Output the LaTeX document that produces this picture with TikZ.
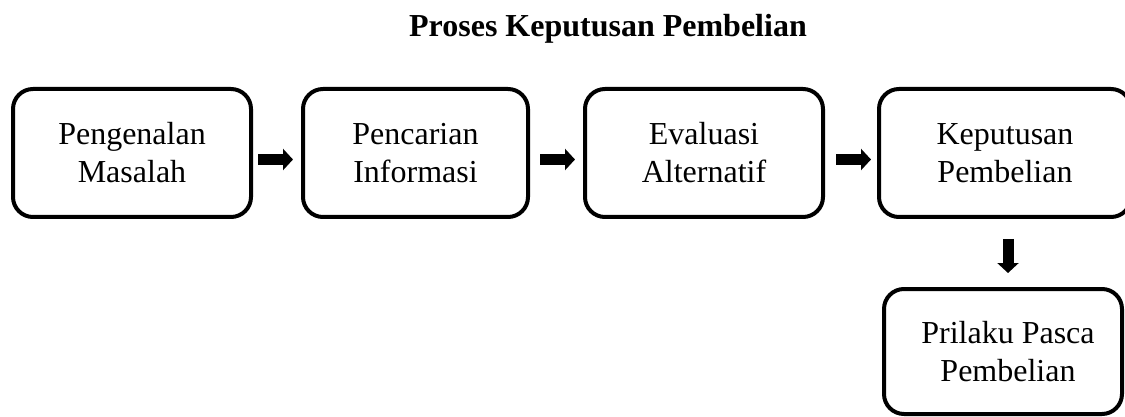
\documentclass[tikz,border=0pt]{standalone}
\usepackage{fontspec}
\setmainfont{Liberation Serif}
\usetikzlibrary{arrows.meta,calc}
\begin{document}
\begin{tikzpicture}[x=0.75pt,y=-0.75pt,
  stagebox/.style={draw, line width=3pt, rounded corners=15pt, align=center,
    outer sep=0pt, inner sep=0pt, font=\fontsize{24}{28.5}\selectfont},
  blockarrow/.style={line width=8.25pt, -{Triangle[length=7.5pt,width=15.75pt]}}]
\useasboundingbox (0,0) rectangle (1125,417);
\node[font=\bfseries\fontsize{24}{28.5}\selectfont, anchor=base] (title) at (608,37) {Proses Keputusan Pembelian};
\node[stagebox, minimum width=178.5pt, minimum height=96pt] (b1) at (132,153) {Pengenalan\\Masalah};
\node[stagebox, minimum width=168.75pt, minimum height=96pt] (b2) at (415.5,153) {Pencarian\\Informasi};
\node[stagebox, minimum width=178.5pt, minimum height=96pt] (b3) at (704,153) {Evaluasi\\Alternatif};
\node[stagebox, minimum width=189pt, minimum height=96pt] (b4) at (1005,153) {Keputusan\\Pembelian};
\node[stagebox, minimum width=178.5pt, minimum height=93.75pt] (b5) at (1003,351.5) {\hspace*{7.5pt}Prilaku Pasca\\\hspace*{7.5pt}Pembelian};
\draw[blockarrow] ($(b1.east)+(7,6.5)$) -- ($(b2.west)+(-10,6.5)$);
\draw[blockarrow] ($(b2.east)+(12,6.5)$) -- ($(b3.west)+(-10,6.5)$);
\draw[blockarrow] ($(b3.east)+(13,6.5)$) -- ($(b4.west)+(-8,6.5)$);
\draw[blockarrow] ($(b4.south)+(3,22)$) -- ($(b5.north)+(5,-16)$);
\end{tikzpicture}
\end{document}
